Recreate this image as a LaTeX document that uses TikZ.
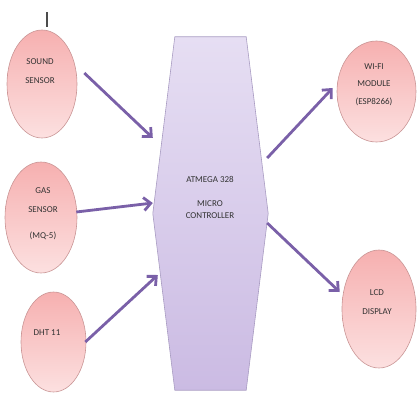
\documentclass[tikz,border=0pt]{standalone}
\usepackage{fontspec}
\setmainfont{Carlito}
\usetikzlibrary{arrows.meta,shapes.geometric,calc}
\definecolor{arrc}{HTML}{7A60A8}
\definecolor{ellb}{HTML}{C99595}
\definecolor{elltop}{HTML}{F6B0B0}
\definecolor{ellmid}{HTML}{F8BEBE}
\definecolor{ellbot}{HTML}{FCE0E0}
\definecolor{hextop}{HTML}{E6DEF3}
\definecolor{hexbot}{HTML}{CBBBE3}
\definecolor{hexb}{HTML}{A99CC2}
\definecolor{txtc}{HTML}{333333}
\begin{document}
\begin{tikzpicture}[x=1pt,y=-1pt,
  sens/.style 2 args={ellipse, draw=ellb, line width=0.6pt, top color=elltop, middle color=ellmid, bottom color=ellbot, inner sep=0pt, minimum width=#1pt, minimum height=#2pt},
  lbl/.style={text=txtc, align=center, inner sep=0pt, font=\fontsize{9}{19}\selectfont},
  arr/.style={draw=arrc, line width=2.8pt, -{Straight Barb[length=7pt,width=13pt]}}]
\useasboundingbox (0,0) rectangle (417,393);

% central block
\node[minimum width=115pt, minimum height=353pt, inner sep=0pt] (mcu) at (210.5,213.5) {};
\path[draw=hexb, line width=0.6pt, top color=hextop, bottom color=hexbot]
  ([xshift=22pt]mcu.north west) -- ([xshift=-22pt]mcu.north east) -- (mcu.east)
  -- ([xshift=-22pt]mcu.south east) -- ([xshift=22pt]mcu.south west) -- (mcu.west) -- cycle;
\node[lbl, font=\fontsize{9}{12}\selectfont] (mcut) at (210,197) {ATMEGA 328\\[12pt]MICRO\\CONTROLLER};

% sensor and output ellipses
\node[sens={70}{108}] (snd) at (42,84) {};
\node[sens={72}{111}] (gas) at (41,217.5) {};
\node[sens={65}{100}] (dht) at (53.5,342) {};
\node[sens={79}{101}] (wifi) at (376.5,91.5) {};
\node[sens={74}{118}] (lcd) at (379,309) {};

\node[lbl] (sndt) at (40,71.5) {SOUND\\SENSOR};
\node[lbl] (gast) at (43,213.5) {GAS\\SENSOR\\[7pt](MQ-5)};
\node[lbl] (dhtt) at (47,333) {DHT 11};
\node[lbl, font=\fontsize{9}{17.5}\selectfont] (wifit) at (374,84.5) {WI-FI\\MODULE\\(ESP8266)};
\node[lbl] (lcdt) at (377,302.5) {LCD\\DISPLAY};

% small mark above sound sensor
\draw[line width=1.2pt, black!70] ([shift={(5,-3)}]snd.north) -- ++(0,-15);

% connectors
\draw[arr] ([shift={(7,-11)}]snd.east) -- ([shift={(0,-75.5)}]mcu.west);
\draw[arr] ([shift={(-1,-5.5)}]gas.east) -- ([shift={(0,-10.5)}]mcu.west);
\draw[arr] ([shift={(-1,0)}]dht.east) -- ([shift={(5,61.5)}]mcu.west);
\draw[arr] ([shift={(-1,-55.5)}]mcu.east) -- ([shift={(-4,-3.5)}]wifi.west);
\draw[arr] ([shift={(-1,9.5)}]mcu.east) -- ([shift={(-2,-17)}]lcd.west);
\end{tikzpicture}
\end{document}
